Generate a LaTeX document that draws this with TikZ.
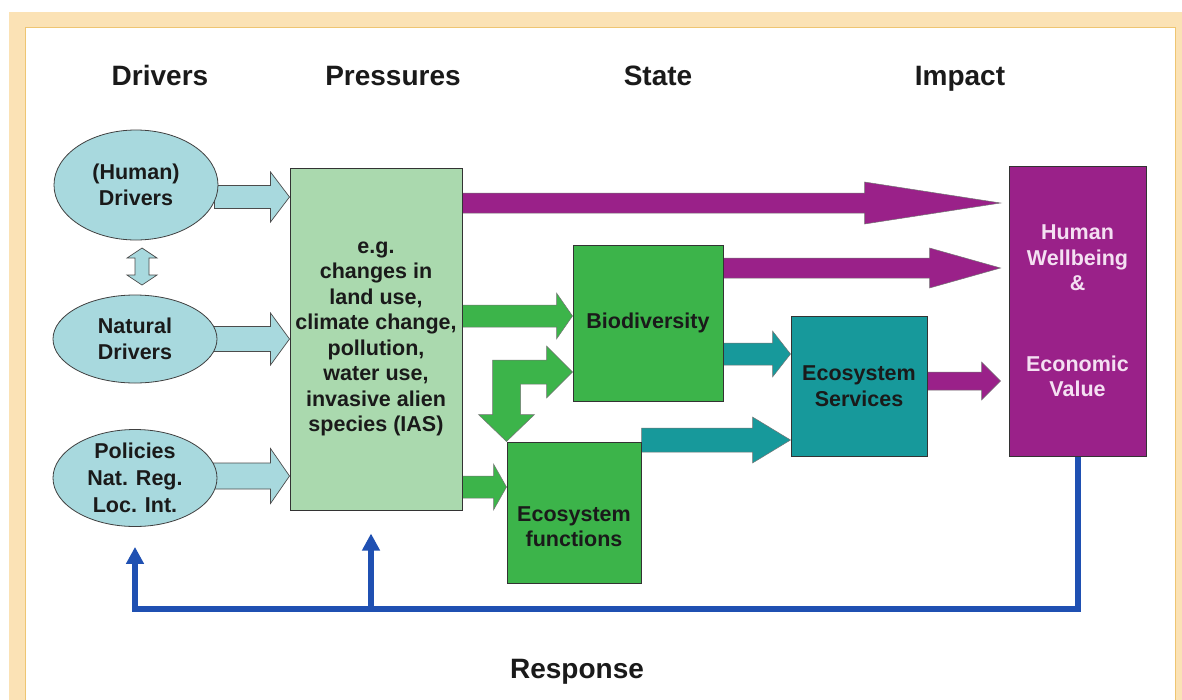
\documentclass[tikz,border=0pt]{standalone}
\usepackage{fontspec}
\setmainfont{Liberation Sans}
\usetikzlibrary{calc,arrows.meta,shapes.geometric}
\definecolor{frameC}{HTML}{FBE2B5}
\definecolor{frameL}{HTML}{EEC572}
\definecolor{lblue}{HTML}{A8D9DE}
\definecolor{lgreen}{HTML}{AAD9AE}
\definecolor{dgreen}{HTML}{3CB44A}
\definecolor{teal}{HTML}{17999B}
\definecolor{purp}{HTML}{9A2189}
\definecolor{resp}{HTML}{1F50B2}
\definecolor{hwtext}{HTML}{F4E0F2}
\definecolor{ink}{HTML}{1A1A1A}
\pgfdeclarelayer{back}
\pgfdeclarelayer{mid}
\pgfsetlayers{back,mid,main}
% horizontal block arrow: style, start, tip, shaft half, head half, head length
\newcommand\harrow[6]{%
  \path[#1] let \p1=#2, \p2=#3 in
    (\x1,\y1+#4pt) -- (\x2-#6pt,\y1+#4pt) -- (\x2-#6pt,\y1+#5pt) -- (\x2,\y1)
    -- (\x2-#6pt,\y1-#5pt) -- (\x2-#6pt,\y1-#4pt) -- (\x1,\y1-#4pt) -- cycle;}
\tikzset{
  txt/.style={font=\bfseries\fontsize{21.5}{25.5}\selectfont, align=center, text=ink, inner sep=0pt},
  title/.style={font=\bfseries\fontsize{28}{32}\selectfont, text=ink, anchor=base, inner sep=0pt},
  ell/.style={ellipse, draw=black!75, line width=0.8pt, fill=lblue, inner sep=0pt},
  box/.style={rectangle, draw=black!80, line width=1pt, inner sep=0pt},
  barrowLB/.style={fill=lblue, draw=black!70, line width=0.7pt},
  barrowG/.style={fill=dgreen, draw=black!55, line width=0.5pt},
  barrowT/.style={fill=teal, draw=black!55, line width=0.5pt},
  barrowP/.style={fill=purp, draw=black!55, line width=0.5pt},
  respline/.style={draw=resp, line width=6pt, line join=miter, -{Triangle[width=17pt,length=17pt]}},
}
\begin{document}
\begin{tikzpicture}[x=1pt, y=-1pt]
\useasboundingbox (0,0) rectangle (1182,699);
\begin{pgfonlayer}{back}
  \fill[frameC] (9,12) rectangle (1190,710);
  \fill[white] (25,27) rectangle (1175,710);
  \draw[frameL, line width=1pt] (25,710) -- (25,27) -- (1175,27) -- (1175,710);
\end{pgfonlayer}

% titles
\node[title] (tD) at (160,85) {Drivers};
\node[title] (tP) at (393,85) {Pressures};
\node[title] (tS) at (658,85) {State};
\node[title] (tI) at (960,85) {Impact};
\node[title] (tR) at (577,678) {Response};

% drivers
\node[ell, minimum width=164pt, minimum height=110pt] (hum) at (136,185) {};
\node[txt] at (hum) {(Human)\\Drivers};
\node[ell, minimum width=164pt, minimum height=88pt] (nat) at (135,339) {};
\node[txt] at (nat) {Natural\\Drivers};
\node[ell, minimum width=164pt, minimum height=97pt] (pol) at (135,478) {};
\node[txt, font=\bfseries\fontsize{21.5}{27}\selectfont] at (pol) {Policies\\Nat. Reg.\\Loc. Int.};

% boxes
\node[box, fill=lgreen, minimum width=172pt, minimum height=342pt] (pres) at (376,339) {};
\node[txt] at (pres) {e.g.\\changes in\\land use,\\climate change,\\pollution,\\water use,\\invasive alien\\species (IAS)};
\node[box, fill=dgreen, minimum width=150pt, minimum height=156pt] (bio) at (648,323) {};
\node[txt] at (bio) {Biodiversity};
\node[box, fill=dgreen, minimum width=134pt, minimum height=141pt] (ecof) at (574,512.5) {};
\node[txt] at ([yshift=-14pt]ecof.center) {Ecosystem\\functions};
\node[box, fill=teal, minimum width=136pt, minimum height=140pt] (ecos) at (859,386) {};
\node[txt] at (ecos) {Ecosystem\\Services};
\node[box, fill=purp, minimum width=137pt, minimum height=290pt] (hw) at (1077.5,311) {};
\node[txt, text=hwtext] at (hw) {Human\\Wellbeing\\\&\\[55pt]Economic\\Value};

% block arrows (behind nodes)
\begin{pgfonlayer}{mid}
  % drivers -> pressures
  \harrow{barrowLB}{([xshift=-4pt]hum.east |- 0,197)}{(pres.west |- 0,197)}{11.5}{25}{19}
  \harrow{barrowLB}{([xshift=-4pt]nat.east |- 0,339)}{(pres.west |- 0,339)}{12.5}{26}{19}
  \harrow{barrowLB}{([xshift=-4pt]pol.east |- 0,476)}{(pres.west |- 0,476)}{13}{27.5}{19}
  % double arrow between human and natural drivers
  \path[barrowLB]
    (142,248) -- (157,258) -- (149,258) -- (149,275) -- (157,275) -- (142,285)
    -- (127,275) -- (135,275) -- (135,258) -- (127,258) -- cycle;
  % pressures -> state / impact
  \harrow{barrowP}{(pres.east |- 0,203)}{([xshift=-8pt]hw.west |- 0,203)}{10}{21}{136}
  \harrow{barrowG}{(pres.east |- 0,316)}{(bio.west |- 0,316)}{11}{23}{16}
  \harrow{barrowG}{(pres.east |- 0,487)}{(ecof.west |- 0,487)}{11}{23}{13}
  % biodiversity <-> ecosystem functions (bent double arrow)
  \path[barrowG] let \p1=(ecof.north west), \p2=(bio.west |- 0,372) in
    (\x1,\y1) -- (\x1+28pt,\y1+27pt) -- (\x1+14pt,\y1+27pt) -- (\x1+14pt,\y2-12pt)
    -- (\x2-26pt,\y2-12pt) -- (\x2-26pt,\y2-26pt) -- (\x2,\y2) -- (\x2-26pt,\y2+26pt)
    -- (\x2-26pt,\y2+12pt) -- (\x1-14pt,\y2+12pt) -- (\x1-14pt,\y1+27pt)
    -- (\x1-28pt,\y1+27pt) -- cycle;
  % state -> services
  \harrow{barrowT}{(bio.east |- 0,354)}{(ecos.west |- 0,354)}{11}{23}{18}
  \harrow{barrowT}{(ecof.north east |- 0,440)}{(ecos.west |- 0,440)}{12}{23}{38}
  % -> impact
  \harrow{barrowP}{(bio.east |- 0,268)}{([xshift=-8pt]hw.west |- 0,268)}{10}{20}{71}
  \harrow{barrowP}{(ecos.east |- 0,381)}{([xshift=-8pt]hw.west |- 0,381)}{9}{19}{19}
\end{pgfonlayer}

% response
\draw[respline, shorten >=20pt] (hw.south) |- (pol.south |- 0,609) -- (pol.south);
\draw[respline, shorten >=23pt] ([xshift=-5pt]pres.south |- 0,609) -- ([xshift=-5pt]pres.south);
\end{tikzpicture}
\end{document}
